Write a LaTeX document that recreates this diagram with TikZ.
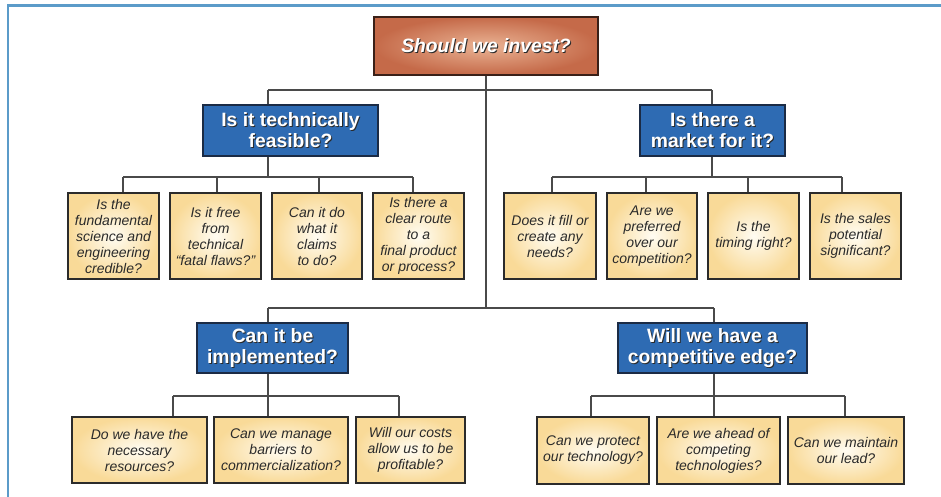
\documentclass[tikz,border=0pt]{standalone}
\usepackage{fontspec}
\setmainfont{Liberation Sans}
\definecolor{framec}{HTML}{5B9BC9}
\definecolor{rootin}{HTML}{EAB394}
\definecolor{rootout}{HTML}{C56A49}
\definecolor{rootborder}{HTML}{3A2018}
\definecolor{headfill}{HTML}{2E6BB3}
\definecolor{headborder}{HTML}{1B2B45}
\definecolor{qin}{HTML}{FFFCF2}
\definecolor{qout}{HTML}{F9DA98}
\definecolor{qborder}{HTML}{2B2B2B}
\definecolor{connc}{HTML}{4A4A4A}
\definecolor{qtext}{HTML}{2A2A2A}
\definecolor{shadowc}{HTML}{2A2A2A}
\tikzset{
  frameline/.style={draw=framec, line width=2.6pt},
  conn/.style={draw=connc, line width=1.1pt},
  rootbox/.style={draw=rootborder, line width=1.3pt, inner color=rootin, outer color=rootout},
  headbox/.style={draw=headborder, line width=1.3pt, fill=headfill},
  qbox/.style={draw=qborder, line width=1.4pt, inner color=qin, outer color=qout,
    align=center, inner sep=1pt, text=qtext, font=\itshape\fontsize{14}{16}\selectfont},
  headtxt/.style={text=white, align=center, inner sep=0pt, font=\bfseries\fontsize{19.3}{21}\selectfont},
  headshadow/.style={headtxt, text=shadowc},
  roottxt/.style={headtxt, font=\bfseries\itshape\fontsize{19.3}{21}\selectfont},
  rootshadow/.style={roottxt, text=shadowc}
}
\begin{document}
\begin{tikzpicture}[x=1pt,y=-1pt]
\useasboundingbox (0,0) rectangle (941,497);
% frame
\draw[frameline] (7.8,497) -- (7.8,5.8) -- (941,5.8);

% root
\node[rootbox, minimum width=224pt, minimum height=58pt] (root) at (486,46) {};
\node[rootshadow] (roots) at ([shift={(1,1)}]root.center) {Should we invest?};
\node[roottxt] (roott) at (root.center) {Should we invest?};

% headers
\node[headbox, minimum width=175pt, minimum height=51pt] (tf) at (290.5,130.5) {};
\node[headshadow] (tfs) at ([shift={(1,1)}]tf.center) {Is it technically\\feasible?};
\node[headtxt] (tft) at (tf.center) {Is it technically\\feasible?};

\node[headbox, minimum width=145pt, minimum height=51pt] (mk) at (712.5,130.5) {};
\node[headshadow] (mks) at ([shift={(1,1)}]mk.center) {Is there a\\market for it?};
\node[headtxt] (mkt) at (mk.center) {Is there a\\market for it?};

\node[headbox, minimum width=151pt, minimum height=50pt] (imp) at (272.5,348) {};
\node[headshadow] (imps) at ([shift={(1,1)}]imp.center) {Can it be\\implemented?};
\node[headtxt] (impt) at (imp.center) {Can it be\\implemented?};

\node[headbox, minimum width=189pt, minimum height=50pt] (edge) at (712.5,348) {};
\node[headshadow] (edges) at ([shift={(1,1)}]edge.center) {Will we have a\\competitive edge?};
\node[headtxt] (edget) at (edge.center) {Will we have a\\competitive edge?};

% question boxes row 1
\node[qbox, minimum width=91pt, minimum height=86pt] (a1) at (113.5,236) {Is the\\fundamental\\science and\\engineering\\credible?};
\node[qbox, minimum width=91pt, minimum height=86pt] (a2) at (215.5,236) {Is it free\\from\\technical\\“fatal flaws?”};
\node[qbox, minimum width=90pt, minimum height=86pt] (a3) at (317,236) {Can it do\\what it\\claims\\to do?};
\node[qbox, minimum width=91pt, minimum height=86pt] (a4) at (418.5,236) {Is there a\\clear route\\to a\\final product\\or process?};

\node[qbox, minimum width=92pt, minimum height=86pt] (b1) at (550,236) {Does it fill or\\create any\\needs?};
\node[qbox, minimum width=90pt, minimum height=86pt] (b2) at (652,236) {Are we\\preferred\\over our\\competition?};
\node[qbox, minimum width=91pt, minimum height=86pt] (b3) at (753.5,236) {Is the\\timing right?};
\node[qbox, minimum width=91pt, minimum height=86pt] (b4) at (855.5,236) {Is the sales\\potential\\significant?};

% question boxes row 2
\node[qbox, minimum width=135pt, minimum height=66pt] (c1) at (139.5,450) {Do we have the\\necessary\\resources?};
\node[qbox, minimum width=134pt, minimum height=66pt] (c2) at (281,450) {Can we manage\\barriers to\\commercialization?};
\node[qbox, minimum width=109pt, minimum height=66pt] (c3) at (410.5,450) {Will our costs\\allow us to be\\profitable?};

\node[qbox, minimum width=112pt, minimum height=67pt] (d1) at (593,450.5) {Can we protect\\our technology?};
\node[qbox, minimum width=123pt, minimum height=67pt] (d2) at (718.5,450.5) {Are we ahead of\\competing\\technologies?};
\node[qbox, minimum width=116pt, minimum height=67pt] (d3) at (846,450.5) {Can we maintain\\our lead?};

% bus coordinates
\coordinate (t1) at (268,90);
\coordinate (t2) at (712,90);
\coordinate (u1) at (268,308);
\coordinate (u2) at (714,308);
\coordinate (ja1) at (123,177); \coordinate (ja2) at (217,177);
\coordinate (ja3) at (319,177); \coordinate (ja4) at (413,177);
\coordinate (jb1) at (552,177); \coordinate (jb2) at (646,177);
\coordinate (jb3) at (748,177); \coordinate (jb4) at (842,177);
\coordinate (jc1) at (173,396); \coordinate (jc2) at (268,396); \coordinate (jc3) at (399,396);
\coordinate (jd1) at (591,396); \coordinate (jd2) at (714,396); \coordinate (jd3) at (845,396);

% trunk
\draw[conn] (root.south) -- (root.south |- u1);
\draw[conn] (t1) -- (t2);
\draw[conn] (u1) -- (u2);
\draw[conn] (t1) -- (t1 |- tf.north);
\draw[conn] (t2) -- (t2 |- mk.north);
\draw[conn] (u1) -- (u1 |- imp.north);
\draw[conn] (u2) -- (u2 |- edge.north);

% feasible children
\draw[conn] (t1 |- tf.south) -- (t1 |- ja1);
\draw[conn] (ja1) -- (ja4);
\draw[conn] (ja1) -- (ja1 |- a1.north);
\draw[conn] (ja2) -- (ja2 |- a2.north);
\draw[conn] (ja3) -- (ja3 |- a3.north);
\draw[conn] (ja4) -- (ja4 |- a4.north);

% market children
\draw[conn] (t2 |- mk.south) -- (t2 |- jb1);
\draw[conn] (jb1) -- (jb4);
\draw[conn] (jb1) -- (jb1 |- b1.north);
\draw[conn] (jb2) -- (jb2 |- b2.north);
\draw[conn] (jb3) -- (jb3 |- b3.north);
\draw[conn] (jb4) -- (jb4 |- b4.north);

% implemented children
\draw[conn] (jc2 |- imp.south) -- (jc2);
\draw[conn] (jc1) -- (jc3);
\draw[conn] (jc1) -- (jc1 |- c1.north);
\draw[conn] (jc2) -- (jc2 |- c2.north);
\draw[conn] (jc3) -- (jc3 |- c3.north);

% edge children
\draw[conn] (jd2 |- edge.south) -- (jd2);
\draw[conn] (jd1) -- (jd3);
\draw[conn] (jd1) -- (jd1 |- d1.north);
\draw[conn] (jd2) -- (jd2 |- d2.north);
\draw[conn] (jd3) -- (jd3 |- d3.north);
\end{tikzpicture}
\end{document}
